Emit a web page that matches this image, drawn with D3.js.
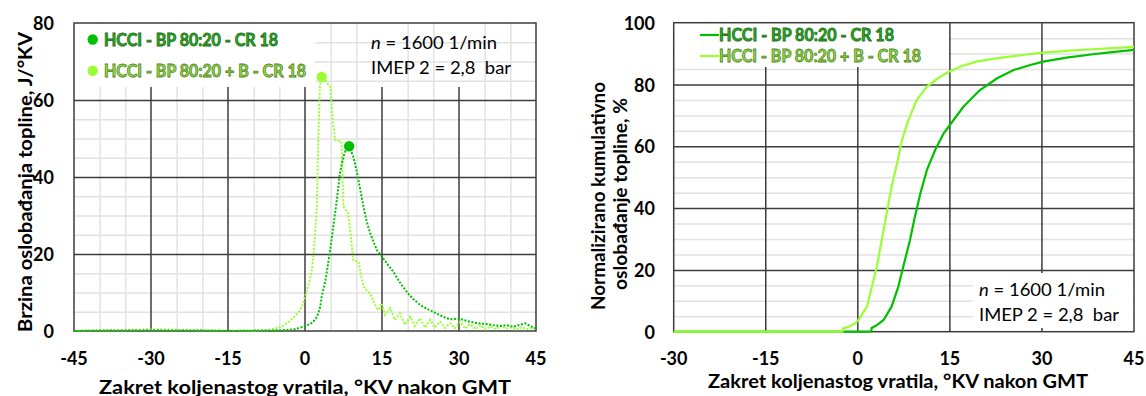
<!DOCTYPE html>
<html><head><meta charset="utf-8">
<script src="https://cdn.jsdelivr.net/npm/d3@7"></script>
<style>
body{margin:0;background:#fff;}
text{font-family:Lato,"Open Sans",sans-serif;white-space:pre;}
</style></head>
<body><svg id="c" width="1146" height="396"></svg>
<script>
// ---------- DATA ----------
const seriesNames = ["HCCI - BP 80:20 - CR 18", "HCCI - BP 80:20 + B - CR 18"];
const annotLines = ["= 1600 1/min", "IMEP 2 = 2,8  bar"];

// Left chart: heat release rate (J/°KV)
const rorX1 = [-45,-40,-35,-30,-25,-20,-15,-10,-7,-5,-3,-2,-1,0,1,1.6,2.2,2.6,3,3.25,3.7,4.1,4.5,4.9,5.5,6.2,6.8,7.5,8,8.6,9.4,10,10.4,11.4,12,12.7,13.4,14,14.9,16,17.2,18.5,19.8,21,22.4,23.7,25,26.3,27.6,28.8,29.9,31,32.1,33.7,35.4,36.7,38,39.3,40.6,41.8,42.9,44,45];
const rorY1 = [0,0.1,0.1,0.2,0.1,0.1,0,0.1,0.1,0.2,0.3,0.5,0.8,1.3,1.8,2.4,3.4,4.6,6.5,8.9,11.5,14.1,17.5,21,27,34,41,45.3,47.3,48,45.3,42,39.2,32.3,28.5,25.4,23,21,19.5,17.5,15.4,12.6,10.2,8.4,6.8,5.8,5,4.1,3.3,3.0,3.3,2.8,2.4,2.0,1.8,1.5,1.3,1.5,1.1,1.6,2.0,1.2,0.7];
const rorX2 = [-45,-40,-35,-30,-25,-20,-15,-10,-7,-6,-5,-4,-3,-2,-1,-0.5,0,0.65,1,1.3,1.6,1.95,2.3,2.6,2.9,3.25,3.7,4.2,4.9,5.4,5.85,6.5,7.1,7.5,8.4,8.9,9.4,10.4,11.4,12,12.7,13.4,14,14.4,14.9,15.6,16.6,17.5,18.5,19.5,20.5,21.4,22.4,23.4,24.4,25.3,26.3,27.3,28.3,29.2,30.2,31.2,32.2,33.2,34.2,35.2,36.2,37.2,38.2,39.2,40.2,41.2,42.2,43.2,44.2,45];
const rorY2 = [0,0.2,0.2,0.4,0.3,0.2,0.1,0,0.3,0.6,1.0,1.5,2.6,3.8,5.3,6.8,8.9,11.8,13.6,15.8,18.8,25.4,32.3,50,63.5,66.2,66,64.5,63.5,55,49.6,49.4,49.2,32.3,30.6,25,18.4,18,11.5,10.5,9.8,7.5,5.9,5.5,7.2,4.2,5.9,2.9,4.6,1.6,3.7,1.3,3.3,0.9,2.9,0.9,2.4,0.8,2.0,0.7,2.4,0.6,1.8,0.5,1.5,0.4,1.2,0.5,1.4,0.6,1.0,0.4,1.0,0.5,0.8,0.5];
const peaks = [[8.6,48],[3.25,66]];

// Right chart: normalized cumulative heat release (%)
const cumX1 = [-30,2.2,2.25,3,4.2,5.5,6.6,7.4,8.5,9.3,10.2,11.25,12.6,14,15,17.2,19.9,22.7,25.4,28.1,30.2,34,38.3,41.5,45];
const cumY1 = [0,0,1.2,2.0,3.8,8.1,14.6,21,29.7,37.2,44.8,52.3,58.8,64.2,66.9,72.8,78.2,82,84.7,86.3,87.4,88.7,89.8,90.5,91.2];
const cumX2 = [-30,-2.5,-2.45,-1.5,-0.5,0.1,1.5,2.3,3.1,3.9,4.7,5.5,6.4,7.2,8.25,9.6,11.25,13.4,15,17,19.3,22,24.7,27.5,30.2,34,38.3,41.5,45];
const cumY2 = [0,0,1.0,1.6,2.6,3.8,8.1,14.6,21,29.7,38.3,46.9,54.5,62,68.5,75,79.3,82.5,84.3,86,87.4,88.3,89,89.7,90.3,90.9,91.4,91.8,92.2];

const leftXTicks = [-45,-30,-15,0,15,30,45];
const leftYTicks = [0,20,40,60,80];
const rightXTicks = [-30,-15,0,15,30,45];
const rightYTicks = [0,20,40,60,80,100];
const xTitle = "Zakret koljenastog vratila, °KV nakon GMT";
const leftYTitle = "Brzina oslobađanja topline, J/°KV";
const rightYTitle = ["Normalizirano kumulativno", "oslobađanje topline, %"];

// ---------- STYLE ----------
const cDark = "#00c000", cLight = "#99ff33";
const gridMajor = "#3c3c3c", gridMinor = "#e2e2e2";

const svg = d3.select("#c");

function drawChart(o){
  const g = svg.append("g");
  const x = d3.scaleLinear().domain(o.xd).range([o.x0,o.x1]);
  const y = d3.scaleLinear().domain(o.yd).range([o.y0,o.y1]);
  if(o.minorX){
    g.append("g").call(d3.axisBottom(x).tickValues(d3.range(o.xd[0],o.xd[1]+1,5).filter(v=>v%15!==0)).tickSize(-(o.y0-o.y1)).tickFormat(""))
     .attr("transform",`translate(0,${o.y0})`).call(a=>{a.select(".domain").remove();a.selectAll("line").attr("stroke",gridMinor).attr("stroke-width",1.5);});
  }
  g.append("g").call(d3.axisLeft(y).tickValues(d3.range(o.yd[0],o.yd[1]+1,5).filter(v=>v%20!==0)).tickSize(-(o.x1-o.x0)).tickFormat(""))
   .attr("transform",`translate(${o.x0},0)`).call(a=>{a.select(".domain").remove();a.selectAll("line").attr("stroke",gridMinor).attr("stroke-width",1.5);});
  o.boxes.forEach(b=>g.append("rect").attr("x",b[0]).attr("y",b[1]).attr("width",b[2]-b[0]).attr("height",b[3]-b[1]).attr("fill","#fff"));
  g.append("g").call(d3.axisLeft(y).tickValues(o.yt.slice(1,-1)).tickSize(-(o.x1-o.x0)).tickFormat(""))
   .attr("transform",`translate(${o.x0},0)`).call(a=>{a.select(".domain").remove();a.selectAll("line").attr("stroke",gridMajor).attr("stroke-width",1.5);});
  o.xt.slice(1,-1).forEach(v=>{
    g.append("line").attr("x1",x(v)).attr("x2",x(v)).attr("y1",o.vTop(v)).attr("y2",o.y0).attr("stroke",gridMajor).attr("stroke-width",1.5);
  });
  (o.topBoxes||[]).forEach(b=>g.append("rect").attr("x",b[0]).attr("y",b[1]).attr("width",b[2]-b[0]).attr("height",b[3]-b[1]).attr("fill","#fff"));
  g.append("rect").attr("x",o.x0).attr("y",o.y1).attr("width",o.x1-o.x0).attr("height",o.y0-o.y1).attr("fill","none").attr("stroke",gridMajor).attr("stroke-width",1.5);
  g.selectAll(".xl").data(o.xt).enter().append("text").attr("x",d=>x(d)).attr("y",358).attr("text-anchor","middle").attr("dominant-baseline","central")
   .attr("font-size",18).attr("font-weight","bold").attr("fill","#000").text(d=>d);
  g.selectAll(".yl").data(o.yt).enter().append("text").attr("x",o.ylx).attr("y",d=>y(d)).attr("text-anchor","end").attr("dominant-baseline","central")
   .attr("font-size",18).attr("font-weight","bold").attr("fill","#000").text(d=>d);
  return {g,x,y};
}

// ---------- LEFT ----------
const L = drawChart({xd:[-45,45],yd:[0,80],x0:74,x1:536,y0:331,y1:23,xt:leftXTicks,yt:leftYTicks,minorX:true,
  boxes:[[75,24,315,87]], vTop:v=>87, ylx:54});
const lineL = d3.line().x(d=>L.x(d[0])).y(d=>L.y(d[1]));
[[rorX2,rorY2,cLight],[rorX1,rorY1,cDark]].forEach(s=>{
  L.g.append("path").attr("d",lineL(s[0].map((v,i)=>[v,s[1][i]]))).attr("fill","none").attr("stroke",s[2])
   .attr("stroke-width",2).attr("stroke-dasharray","2,1.6");
});
L.g.selectAll(".pk").data(peaks).enter().append("circle").attr("cx",d=>L.x(d[0])).attr("cy",d=>L.y(d[1])).attr("r",5.2)
  .attr("fill",(d,i)=>i===0?cDark:cLight);
const legFill = ["#19b319","#8fe63c"], legStroke = ["#2a6a1c","#55802a"];
[39.5,70.7].forEach((yy,i)=>{
  svg.append("circle").attr("cx",92.7).attr("cy",yy).attr("r",5.2).attr("fill",i===0?cDark:cLight);
  svg.append("text").attr("x",104).attr("y",yy).attr("dominant-baseline","central").attr("font-size",16.5).attr("font-weight","bold")
   .attr("fill",legFill[i]).attr("stroke",legStroke[i]).attr("stroke-width",0.8).attr("textLength",i===0?174:202).attr("lengthAdjust","spacingAndGlyphs").text(seriesNames[i]);
});
function annot(xx,y1,y2){
  const t = svg.append("text").attr("x",xx).attr("y",y1).attr("dominant-baseline","central").attr("font-size",18).attr("fill","#000").attr("textLength",126).attr("lengthAdjust","spacingAndGlyphs");
  t.append("tspan").attr("font-style","italic").text("n");
  t.append("tspan").text(" " + annotLines[0]);
  svg.append("text").attr("x",xx).attr("y",y2).attr("dominant-baseline","central").attr("font-size",18).attr("fill","#000").attr("textLength",140).attr("lengthAdjust","spacingAndGlyphs").text(annotLines[1]);
}
annot(371,42,67);
svg.append("text").attr("x",305).attr("y",386).attr("text-anchor","middle").attr("dominant-baseline","central").attr("font-size",19.5).attr("font-weight","bold")
  .attr("textLength",412).attr("lengthAdjust","spacingAndGlyphs").text(xTitle);
svg.append("text").attr("transform","translate(24,182) rotate(-90)").attr("text-anchor","middle").attr("dominant-baseline","central").attr("font-size",19.5).attr("font-weight","bold")
  .attr("textLength",300).attr("lengthAdjust","spacingAndGlyphs").text(leftYTitle);

// ---------- RIGHT ----------
const R = drawChart({xd:[-30,45],yd:[0,100],x0:673.7,x1:1134,y0:331.7,y1:22.7,xt:rightXTicks,yt:rightYTicks,minorX:false,
  boxes:[[675,24,949,67]], vTop:v=>(v<15?67:22.7), ylx:655, topBoxes:[[973,273,1133,328]]});
const lineR = d3.line().x(d=>R.x(d[0])).y(d=>R.y(d[1]));
[[cumX1,cumY1,cDark],[cumX2,cumY2,cLight]].forEach(s=>{
  R.g.append("path").attr("d",lineR(s[0].map((v,i)=>[v,s[1][i]]))).attr("fill","none").attr("stroke",s[2]).attr("stroke-width",2.2);
});
[35,56].forEach((yy,i)=>{
  svg.append("line").attr("x1",700).attr("x2",719).attr("y1",yy).attr("y2",yy).attr("stroke",i===0?cDark:cLight).attr("stroke-width",2.2);
  svg.append("text").attr("x",719).attr("y",yy).attr("dominant-baseline","central").attr("font-size",16.5).attr("font-weight","bold")
   .attr("fill",legFill[i]).attr("stroke",legStroke[i]).attr("stroke-width",0.8).attr("textLength",i===0?175:202).attr("lengthAdjust","spacingAndGlyphs").text(seriesNames[i]);
});
annot(979,289,314);
svg.append("text").attr("x",898).attr("y",381).attr("text-anchor","middle").attr("dominant-baseline","central").attr("font-size",18.5).attr("font-weight","bold")
  .attr("textLength",380).attr("lengthAdjust","spacingAndGlyphs").text(xTitle);
const rtLen = [228,192], rtCy = [196,194];
rightYTitle.forEach((t,i)=>{
  svg.append("text").attr("transform",`translate(${598+i*22},${rtCy[i]}) rotate(-90)`).attr("text-anchor","middle").attr("dominant-baseline","central")
   .attr("font-size",18).attr("font-weight","bold").attr("textLength",rtLen[i]).attr("lengthAdjust","spacingAndGlyphs").text(t);
});
</script></body></html>
